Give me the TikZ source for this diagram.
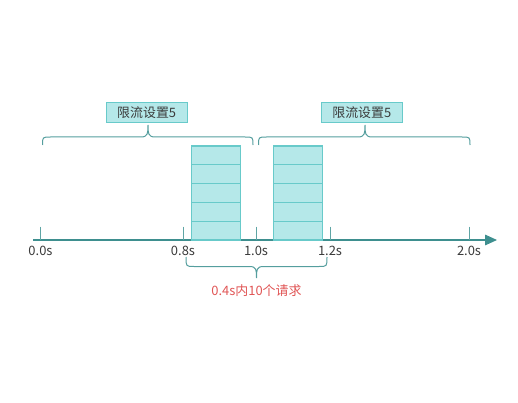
\documentclass[tikz,border=0pt]{standalone}
\usepackage{fontspec}
\setmainfont{Noto Sans CJK SC}
\usetikzlibrary{arrows.meta}
\definecolor{axisc}{HTML}{3E8F8F}
\definecolor{tickc}{HTML}{5FA5A5}
\definecolor{bracec}{HTML}{559E9E}
\definecolor{boxfill}{HTML}{B5E8E9}
\definecolor{boxline}{HTML}{68CACA}
\definecolor{txt}{HTML}{3A3A3A}
\definecolor{redtxt}{HTML}{E05555}
\tikzset{
  px/.style={x=0.75pt,y=-0.75pt},
  axisline/.style={draw=axisc,line width=0.8pt},
  tickline/.style={draw=tickc,line width=0.7pt},
  bracel/.style={draw=bracec,line width=0.75pt},
  ticklabel/.style={text=txt,font=\fontsize{9.7pt}{11pt}\selectfont,inner sep=0pt},
  titlebox/.style={draw=boxline,fill=boxfill,line width=0.75pt,minimum width=61pt,minimum height=15pt,inner sep=0pt,text=txt,font=\fontsize{9.7pt}{11pt}\selectfont},
  cell/.style={draw=boxline,fill=boxfill,line width=0.8pt,minimum width=36.75pt,minimum height=14.1pt,inner sep=0pt,outer sep=0pt},
}
\begin{document}
\begin{tikzpicture}[px]
\useasboundingbox (0,0) rectangle (518,403);
% axis
\coordinate (axs) at (33,240);
\coordinate (axe) at (497,240);
\draw[axisline,-{Triangle[length=9pt,width=8pt]}] (axs) -- (axe);
% ticks
\foreach \name/\x/\lab in {t0/40.5/0.0s,t8/183/0.8s,t10/256/1.0s,t12/330/1.2s,t20/469/2.0s}{
  \coordinate (\name top) at (\x,226.5);
  \coordinate (\name) at (\x,240);
  \draw[tickline] (\name top) -- (\name);
  \node[ticklabel] (\name lab) at (\x,251) {\lab};
}
% request stacks
\foreach \i in {0,...,4}{
  \node[cell] (la\i) at (216.2,{155.4+18.8*\i}) {};
  \node[cell] (rb\i) at (297.7,{155.4+18.8*\i}) {};
}
% top-left brace
\coordinate (b1a) at (42.5,145);
\coordinate (b1m) at (148,125);
\coordinate (b1b) at (253,145);
\draw[bracel] (b1a) .. controls (42.5,137) .. (50.5,137) -- (141,137)
  .. controls (148,137) and (148,133) .. (b1m) .. controls (148,133) and (148,137) .. (155,137)
  -- (245,137) .. controls (253,137) .. (b1b);
\node[titlebox] (lim1) at (146.7,112.5) {限流设置5};
% top-right brace
\coordinate (b2a) at (258.5,145);
\coordinate (b2m) at (365,125);
\coordinate (b2b) at (470,145);
\draw[bracel] (b2a) .. controls (258.5,137) .. (266.5,137) -- (358,137)
  .. controls (365,137) and (365,133) .. (b2m) .. controls (365,133) and (365,137) .. (372,137)
  -- (462,137) .. controls (470,137) .. (b2b);
\node[titlebox] (lim2) at (361.8,112.5) {限流设置5};
% bottom brace
\coordinate (b3a) at (186,257);
\coordinate (b3m) at (256.5,278);
\coordinate (b3b) at (327,257);
\draw[bracel] (b3a) .. controls (186,266.5) .. (194,266.5) -- (249.5,266.5)
  .. controls (256.5,266.5) and (256.5,270) .. (b3m) .. controls (256.5,270) and (256.5,266.5) .. (263.5,266.5)
  -- (319,266.5) .. controls (327,266.5) .. (b3b);
\node[text=redtxt,font=\fontsize{9.7pt}{11pt}\selectfont,inner sep=0pt] (note) at (256.5,291) {0.4s内10个请求};
\end{tikzpicture}
\end{document}
